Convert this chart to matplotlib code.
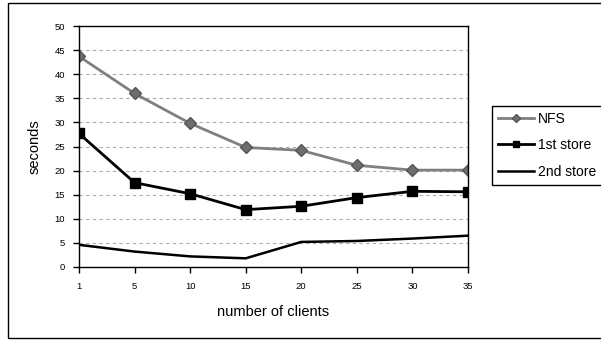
import matplotlib.pyplot as plt
from matplotlib.patches import Rectangle

# 数据
clients = ['1', '5', '10', '15', '20', '25', '30', '35']
nfs = [43.7, 36.0, 29.8, 24.8, 24.2, 21.1, 20.1, 20.1]
store1 = [27.7, 17.5, 15.2, 11.9, 12.6, 14.4, 15.7, 15.6]
store2 = [4.6, 3.2, 2.2, 1.8, 5.2, 5.4, 5.9, 6.5]

plt.rcParams['font.family'] = ['Liberation Sans', 'DejaVu Sans']

fig = plt.figure(figsize=(6.01, 3.41), dpi=100)
W, H = 601, 341
ax = fig.add_axes([79 / W, 1 - 267 / H, (468 - 79) / W, (267 - 26) / H])

x = range(len(clients))
ax.plot(x, nfs, color='#808080', lw=2, marker='D', ms=6,
        markerfacecolor='#6e6e6e', markeredgecolor='#555555', label='NFS')
ax.plot(x, store1, color='black', lw=2, marker='s', ms=7,
        markerfacecolor='black', label='1st store')
ax.plot(x, store2, color='black', lw=1.8, label='2nd store')

ax.set_xlim(0, len(clients) - 1)
ax.set_ylim(0, 50)
ax.set_xticks(list(x))
ax.set_xticklabels(clients)
ax.set_yticks(range(0, 51, 5))
ax.tick_params(labelsize=6.8, length=4, width=1, direction='out')
ax.tick_params(axis='x', pad=7)
ax.tick_params(axis='y', pad=6)
ax.yaxis.grid(True, linestyle=(0, (3, 3)), color='#aaaaaa', lw=0.8)
for s in ax.spines.values():
    s.set_linewidth(1)
ax.set_ylabel('seconds', fontsize=10.5, labelpad=9)
ax.set_xlabel('number of clients', fontsize=10.5, labelpad=10)

fig.legend(loc='upper left', bbox_to_anchor=(492 / W, 1 - 106 / H),
           fontsize=10, frameon=True, fancybox=False, edgecolor='black',
           framealpha=1, borderpad=0.4, labelspacing=0.92, handlelength=2.6,
           handletextpad=0.3, borderaxespad=0, markerscale=0.7)

# 外框
fig.add_artist(Rectangle((8 / W, 3 / H), 1, (338 - 3) / H, transform=fig.transFigure,
                         fill=False, edgecolor='black', lw=1))

fig.savefig('out.png', dpi=100)
